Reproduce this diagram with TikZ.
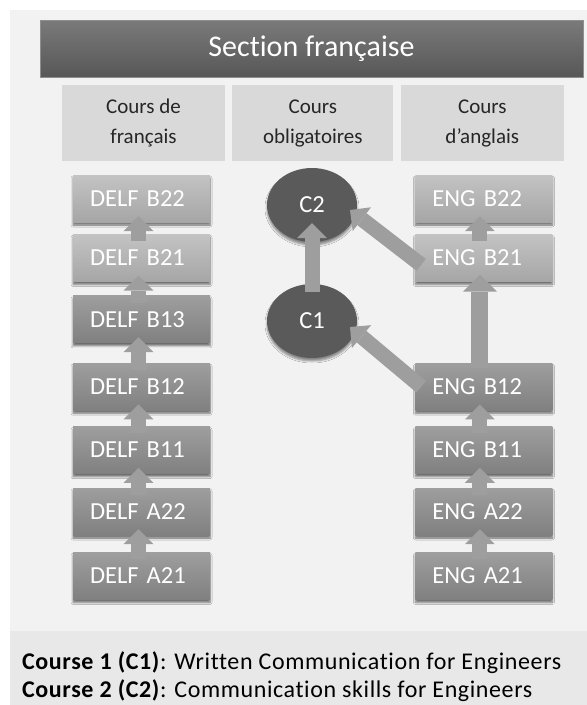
\documentclass[tikz,border=0pt]{standalone}
\usepackage{fontspec}
\setmainfont{Carlito}[Ligatures=NoCommon]
\usetikzlibrary{shapes.geometric, arrows.meta, positioning, calc, shadows.blur}
\definecolor{page}{HTML}{F2F2F2}
\definecolor{legendbg}{HTML}{E8E8E8}
\definecolor{bartop}{HTML}{7A7A7A}
\definecolor{barbot}{HTML}{575757}
\definecolor{barrule}{HTML}{8E8E8E}
\definecolor{headbg}{HTML}{D9D9D9}
\definecolor{headink}{HTML}{262626}
\definecolor{lighttop}{HTML}{C3C3C3}
\definecolor{lightbot}{HTML}{A6A6A6}
\definecolor{darktop}{HTML}{9E9E9E}
\definecolor{darkbot}{HTML}{808080}
\definecolor{coursefill}{HTML}{5A5A5A}
\definecolor{arrowgray}{HTML}{9E9E9E}
\tikzset{
  level/.style     = {rectangle, minimum height=47pt, text width=103pt, inner xsep=17pt,
                      inner ysep=0pt, align=left, text=white, font=\fontsize{24.5}{28}\selectfont,
                      blur shadow={shadow xshift=0pt, shadow yshift=-3pt, shadow blur radius=2pt,
                                   shadow blur steps=5, shadow opacity=55}},
  levellight/.style = {level, top color=lighttop, bottom color=lightbot},
  leveldark/.style  = {level, top color=darktop, bottom color=darkbot},
  course/.style    = {ellipse, minimum width=90pt, minimum height=74pt, inner sep=0pt, fill=coursefill,
                      text=white, font=\fontsize{24.5}{28}\selectfont,
                      blur shadow={shadow xshift=0pt, shadow yshift=-3pt, shadow blur radius=2pt,
                                   shadow blur steps=5, shadow opacity=45}},
  colhead/.style   = {rectangle, minimum height=76pt, inner sep=0pt, fill=headbg, text=headink,
                      align=center, font=\fontsize{21}{30}\selectfont},
  stepup/.style    = {draw=arrowgray, line width=15pt, -{Triangle[length=15pt, width=30pt, line width=0pt]}},
  bigup/.style     = {draw=arrowgray, line width=17pt, -{Triangle[length=17pt, width=34pt, line width=0pt]}},
  legendtext/.style = {anchor=west, inner sep=0pt, text=black,
                       font=\fontsize{24}{28}\selectfont\addfontfeatures{LetterSpace=2.5}},
}
\begin{document}
\begin{tikzpicture}[x=1pt, y=-1pt]
  \useasboundingbox (0,0) rectangle (587,705);
  \fill[white] (0,0) rectangle (587,705);
  \fill[page] (10,10) rectangle (587,631);
  \fill[legendbg] (10,631) rectangle (587,705);

  % title and column heads
  \node[rectangle, minimum width=543pt, minimum height=57pt, top color=bartop, bottom color=barbot,
        draw=barrule, line width=0.8pt, text=white, font=\fontsize{30}{34}\selectfont] (title) at (311.5,48.5) {Section française};
  \node[colhead, minimum width=163pt] (hdfr) at (143.5,123) {Cours de\\français};
  \node[colhead, minimum width=161pt, right=7pt of hdfr] (hdob) {Cours\\obligatoires};
  \node[colhead, minimum width=163pt, right=7pt of hdob] (hden) {Cours\\d’anglais};

  % French levels
  \node[levellight] (delfb22) at (141.5,198.5) {DELF B22};
  \node[levellight, below=12pt of delfb22] (delfb21) {DELF B21};
  \node[leveldark, below=14pt of delfb21] (delfb13) {DELF B13};
  \node[leveldark, below=20pt of delfb13] (delfb12) {DELF B12};
  \node[leveldark, below=16pt of delfb12] (delfb11) {DELF B11};
  \node[leveldark, below=14pt of delfb11] (delfa22) {DELF A22};
  \node[leveldark, below=17pt of delfa22] (delfa21) {DELF A21};

  % English levels
  \node[levellight, right=205pt of delfb22] (engb22) {ENG B22};
  \node[levellight, right=205pt of delfb21] (engb21) {ENG B21};
  \node[leveldark, right=205pt of delfb12] (engb12) {ENG B12};
  \node[leveldark, right=205pt of delfb11] (engb11) {ENG B11};
  \node[leveldark, right=205pt of delfa22] (enga22) {ENG A22};
  \node[leveldark, right=205pt of delfa21] (enga21) {ENG A21};

  % compulsory courses
  \node[course] (c2) at (312,205) {C2};
  \node[course] (c1) at (312,321) {C1};

  \draw[stepup] ([xshift=-3pt, yshift=-7pt]delfa21.north) -- ([xshift=-3pt, yshift=6pt]delfa22.south);
  \draw[stepup] ([xshift=-3pt, yshift=-7pt]delfa22.north) -- ([xshift=-3pt, yshift=6pt]delfb11.south);
  \draw[stepup] ([xshift=-3pt, yshift=-7pt]delfb11.north) -- ([xshift=-3pt, yshift=6pt]delfb12.south);
  \draw[stepup] ([xshift=-3pt, yshift=-7pt]delfb12.north) -- ([xshift=-3pt, yshift=6pt]delfb13.south);
  \draw[stepup] ([xshift=-3pt, yshift=-7pt]delfb13.north) -- ([xshift=-3pt, yshift=6pt]delfb21.south);
  \draw[stepup] ([xshift=-3pt, yshift=-7pt]delfb21.north) -- ([xshift=-3pt, yshift=6pt]delfb22.south);

  \draw[stepup] ([xshift=-4pt, yshift=-7pt]enga21.north) -- ([xshift=-4pt, yshift=6pt]enga22.south);
  \draw[stepup] ([xshift=-4pt, yshift=-7pt]enga22.north) -- ([xshift=-4pt, yshift=6pt]engb11.south);
  \draw[stepup] ([xshift=-4pt, yshift=-7pt]engb11.north) -- ([xshift=-4pt, yshift=6pt]engb12.south);
  \draw[bigup] ([xshift=-4pt, yshift=-5pt]engb12.north) -- ([xshift=-4pt, yshift=7pt]engb21.south);
  \draw[stepup] ([xshift=-4pt, yshift=-7pt]engb21.north) -- ([xshift=-4pt, yshift=6pt]engb22.south);

  \draw[stepup] ([yshift=-8pt]c1.north) -- ([yshift=19pt]c2.south);
  \draw[stepup] ([xshift=6pt, yshift=-7pt]engb21.west) -- ($(c2.center)+(38,5)$);
  \draw[stepup] ([xshift=6pt]engb12.west) -- ($(c1.center)+(38,6)$);

  % legend
  \node[legendtext] (legc1) at (22,663) {\textbf{Course 1 (C1)}: Written Communication for Engineers};
  \node[legendtext, below=5pt of legc1.south west, anchor=north west] (legc2) {\textbf{Course 2 (C2)}: Communication skills for Engineers};
\end{tikzpicture}
\end{document}
